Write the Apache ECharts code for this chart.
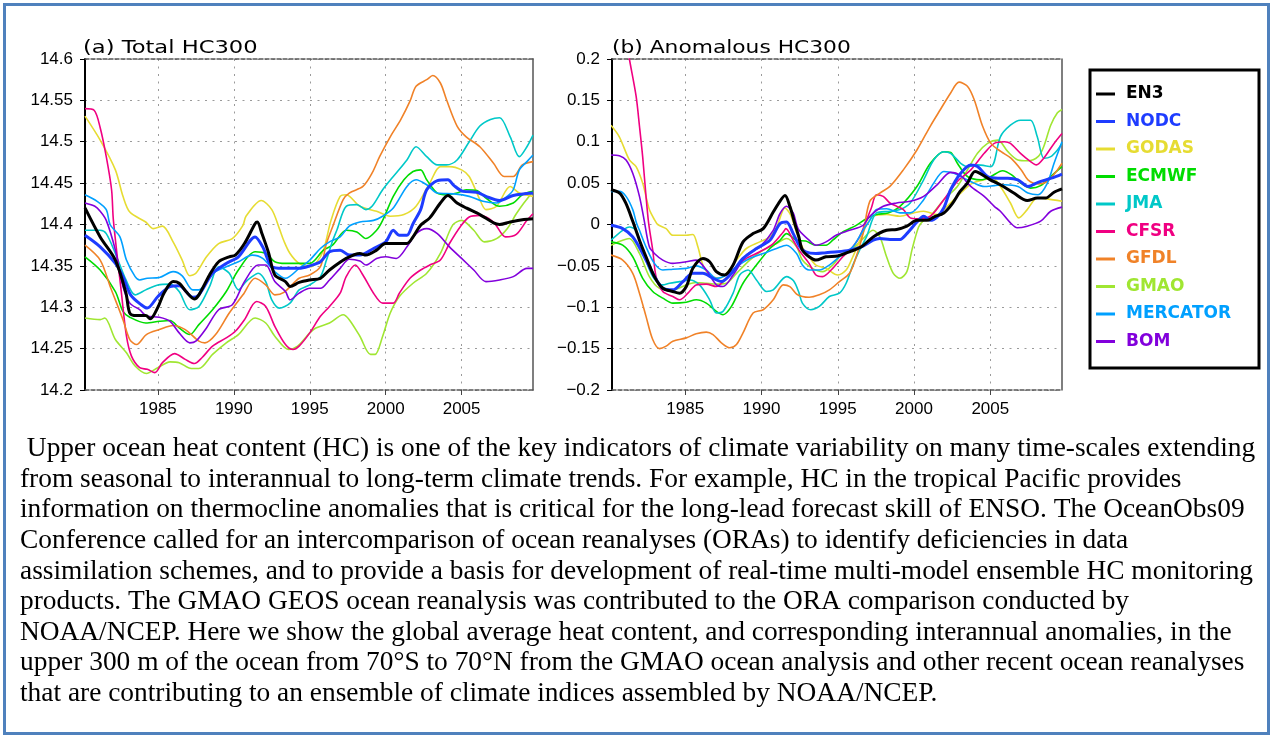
<!DOCTYPE html>
<html>
<head>
<meta charset="utf-8">
<script src="https://cdn.jsdelivr.net/npm/echarts@6/dist/echarts.min.js"></script>
<style>
  html, body { margin: 0; padding: 0; background: #ffffff; }
  #chart { width: 1273px; height: 738px; }
</style>
</head>
<body>
<div id="chart"></div>
<script>
// ---- Global mean heat content of the upper 300 m (70S-70N), [year, value] ----
const en3Total = [[1980.2,14.42],[1981.2,14.385],[1982.2,14.357],[1982.9,14.317],[1983.15,14.293],[1983.6,14.29],[1984.2,14.29],[1984.5,14.286],[1985,14.3],[1985.4,14.317],[1986,14.331],[1986.4,14.329],[1986.85,14.319],[1987.4,14.31],[1987.7,14.315],[1988.4,14.339],[1989,14.355],[1989.7,14.361],[1990.1,14.363],[1990.7,14.377],[1991.4,14.401],[1991.55,14.403],[1991.85,14.389],[1992.3,14.365],[1992.7,14.339],[1993.4,14.331],[1993.7,14.325],[1994.3,14.33],[1995,14.333],[1995.7,14.335],[1996.3,14.345],[1997.4,14.359],[1998.3,14.365],[1998.7,14.363],[1999.4,14.369],[2000,14.377],[2001.4,14.377],[2001.8,14.385],[2002.3,14.399],[2002.9,14.408],[2003.6,14.426],[2004.1,14.435],[2004.7,14.426],[2005.3,14.42],[2006.2,14.412],[2007.1,14.402],[2007.5,14.4],[2008.2,14.403],[2009.1,14.406],[2009.7,14.407]];
const nodcTotal = [[1980.2,14.387],[1981.2,14.373],[1982.2,14.353],[1982.7,14.337],[1983.2,14.315],[1983.9,14.303],[1984.3,14.299],[1985,14.313],[1985.8,14.325],[1986.4,14.326],[1987.3,14.312],[1987.7,14.315],[1988.6,14.341],[1989.5,14.353],[1990.3,14.361],[1991.4,14.385],[1991.9,14.373],[1992.5,14.349],[1993.2,14.347],[1994.3,14.347],[1995,14.35],[1995.7,14.355],[1996.3,14.367],[1997,14.369],[1997.6,14.363],[1998.3,14.363],[1999.2,14.371],[2000,14.379],[2000.5,14.393],[2000.9,14.387],[2001.4,14.387],[2001.8,14.401],[2002.3,14.418],[2002.7,14.442],[2003.4,14.453],[2004.1,14.454],[2004.5,14.447],[2005.1,14.44],[2006,14.439],[2006.6,14.434],[2007.5,14.429],[2008.4,14.435],[2009.7,14.438]];
const godasTotal = [[1980.2,14.531],[1981.2,14.502],[1982.2,14.466],[1982.7,14.434],[1983.15,14.415],[1984.2,14.403],[1984.7,14.395],[1985.3,14.398],[1986,14.379],[1986.6,14.357],[1987.1,14.338],[1987.5,14.341],[1988.2,14.361],[1989,14.377],[1989.9,14.383],[1990.6,14.399],[1990.8,14.41],[1991.8,14.429],[1992.5,14.418],[1993,14.395],[1993.3,14.38],[1993.7,14.365],[1994.3,14.353],[1995,14.349],[1995.4,14.353],[1995.9,14.369],[1996.4,14.405],[1997,14.434],[1997.4,14.436],[1998.3,14.422],[1999.4,14.416],[2000.3,14.41],[2001.2,14.412],[2002,14.422],[2002.9,14.45],[2003.6,14.47],[2004.2,14.47],[2005,14.466],[2005.5,14.458],[2006.2,14.43],[2006.6,14.418],[2007.3,14.422],[2008.2,14.446],[2008.8,14.438],[2009.7,14.434]];
const ecmwfTotal = [[1980.2,14.361],[1981.2,14.345],[1982.2,14.319],[1982.7,14.295],[1983.15,14.288],[1984.2,14.281],[1985.1,14.283],[1985.8,14.284],[1986.4,14.275],[1987.1,14.267],[1987.7,14.279],[1988.6,14.297],[1989.5,14.319],[1990.3,14.345],[1991.4,14.367],[1992.1,14.365],[1992.7,14.355],[1993.4,14.353],[1994.3,14.353],[1995,14.353],[1995.9,14.369],[1996.5,14.375],[1997.4,14.393],[1998.1,14.391],[1998.7,14.383],[1999.4,14.393],[1999.8,14.405],[2000.5,14.434],[2001.2,14.454],[2001.8,14.464],[2002.3,14.466],[2002.7,14.454],[2003.4,14.438],[2004,14.436],[2004.7,14.438],[2005.3,14.442],[2006,14.441],[2006.6,14.432],[2007.5,14.422],[2008.4,14.426],[2009,14.436],[2009.7,14.44]];
const jmaTotal = [[1980.2,14.393],[1981.2,14.393],[1981.6,14.389],[1982.2,14.365],[1982.9,14.333],[1983.5,14.315],[1984.2,14.321],[1985,14.327],[1985.8,14.328],[1986.4,14.319],[1987.1,14.297],[1987.7,14.301],[1988.4,14.325],[1989,14.349],[1989.7,14.341],[1990.3,14.321],[1990.8,14.331],[1991.2,14.337],[1991.6,14.341],[1992.1,14.331],[1992.5,14.309],[1993,14.299],[1993.7,14.305],[1994.3,14.321],[1995,14.327],[1995.7,14.337],[1996.1,14.357],[1996.5,14.38],[1996.8,14.394],[1997.4,14.422],[1998.1,14.424],[1998.7,14.418],[1999.1,14.422],[1999.8,14.442],[2000.5,14.458],[2001.4,14.478],[2002,14.494],[2002.7,14.482],[2003.4,14.472],[2004,14.472],[2004.7,14.478],[2005.5,14.5],[2006.2,14.519],[2006.9,14.527],[2007.5,14.529],[2008.2,14.506],[2008.8,14.482],[2009.3,14.494],[2009.7,14.508]];
const cfsrTotal = [[1980.2,14.54],[1980.8,14.538],[1981.2,14.517],[1981.6,14.482],[1981.95,14.442],[1982.07,14.405],[1982.6,14.317],[1982.93,14.265],[1983.26,14.241],[1983.8,14.227],[1984.3,14.225],[1984.8,14.221],[1985.3,14.233],[1986.1,14.244],[1986.8,14.237],[1987.4,14.232],[1987.9,14.239],[1988.6,14.253],[1989.5,14.263],[1990.1,14.271],[1990.7,14.285],[1991.5,14.307],[1992.1,14.301],[1992.7,14.277],[1993.4,14.255],[1993.9,14.249],[1994.3,14.253],[1995,14.269],[1995.7,14.289],[1996.3,14.301],[1997,14.317],[1997.4,14.337],[1998,14.351],[1998.5,14.339],[1999.2,14.317],[1999.8,14.305],[2000.5,14.305],[2000.9,14.317],[2001.6,14.335],[2002.3,14.345],[2002.9,14.351],[2003.6,14.357],[2004.2,14.377],[2004.9,14.397],[2005.5,14.409],[2006.2,14.411],[2007.1,14.403],[2007.9,14.385],[2008.6,14.388],[2009.3,14.405],[2009.7,14.413]];
const gfdlTotal = [[1980.2,14.375],[1981.2,14.357],[1981.9,14.323],[1982.7,14.285],[1983.15,14.261],[1983.6,14.255],[1984.24,14.267],[1985.1,14.273],[1986,14.278],[1986.8,14.273],[1987.7,14.259],[1988.1,14.257],[1988.8,14.267],[1989.7,14.293],[1990.6,14.315],[1991.4,14.335],[1992.1,14.327],[1992.7,14.315],[1993.3,14.318],[1994.3,14.335],[1995,14.339],[1995.7,14.349],[1996.1,14.377],[1996.5,14.397],[1997.2,14.43],[1997.6,14.438],[1998.5,14.446],[1999.1,14.462],[1999.6,14.482],[2000.3,14.506],[2001,14.527],[2001.6,14.549],[2002,14.567],[2002.7,14.575],[2003.1,14.58],[2003.6,14.571],[2004,14.551],[2004.7,14.519],[2005.3,14.506],[2006.2,14.494],[2007.1,14.474],[2007.8,14.458],[2008.4,14.458],[2009,14.472],[2009.7,14.476]];
const gmaoTotal = [[1980.2,14.287],[1981.2,14.285],[1981.5,14.287],[1982.2,14.261],[1982.93,14.245],[1983.5,14.229],[1984.24,14.22],[1985,14.227],[1985.8,14.234],[1986.4,14.233],[1987.2,14.226],[1987.7,14.226],[1988.6,14.243],[1989.5,14.257],[1990.3,14.267],[1991.4,14.287],[1992.1,14.281],[1992.7,14.265],[1993.6,14.249],[1994.2,14.253],[1995,14.269],[1995.4,14.275],[1996.3,14.281],[1997.2,14.291],[1997.6,14.285],[1998.3,14.265],[1999,14.243],[1999.3,14.243],[1999.8,14.265],[2000.3,14.293],[2000.9,14.313],[2001.8,14.329],[2002.7,14.341],[2003.6,14.365],[2004.4,14.399],[2005,14.405],[2005.8,14.393],[2006.5,14.379],[2007.3,14.383],[2008,14.395],[2008.6,14.413],[2009.1,14.426],[2009.7,14.44]];
const mercatorTotal = [[1980.2,14.436],[1981,14.428],[1981.6,14.418],[1981.85,14.4],[1982.5,14.385],[1982.93,14.357],[1983.5,14.337],[1983.8,14.333],[1984.3,14.335],[1985.1,14.336],[1986,14.343],[1986.6,14.338],[1987.3,14.321],[1987.7,14.321],[1988.6,14.341],[1989.5,14.349],[1990.3,14.355],[1991.2,14.363],[1991.9,14.359],[1992.7,14.343],[1993.4,14.335],[1994.3,14.347],[1995,14.357],[1995.7,14.371],[1996.3,14.379],[1997,14.385],[1997.6,14.398],[1998.3,14.403],[1999.2,14.405],[1999.8,14.41],[2000.5,14.42],[2001.4,14.446],[2002,14.454],[2002.7,14.448],[2003.4,14.438],[2004.5,14.437],[2005.5,14.434],[2006.4,14.428],[2007.3,14.426],[2008,14.434],[2008.4,14.442],[2008.8,14.466],[2009.3,14.476],[2009.7,14.484]];
const bomTotal = [[1980.2,14.426],[1980.85,14.422],[1981.2,14.416],[1981.6,14.405],[1982.2,14.369],[1982.7,14.325],[1983.15,14.305],[1983.8,14.297],[1984.3,14.289],[1985.1,14.288],[1985.8,14.283],[1986.4,14.269],[1987.1,14.257],[1987.5,14.259],[1988.2,14.275],[1989,14.297],[1989.9,14.303],[1990.7,14.331],[1991.6,14.351],[1992.1,14.351],[1992.7,14.331],[1993.4,14.319],[1993.7,14.309],[1994.3,14.317],[1995,14.323],[1995.7,14.323],[1996.3,14.333],[1997,14.347],[1997.6,14.358],[1998.3,14.356],[1998.7,14.351],[1999.4,14.359],[2000,14.361],[2000.7,14.359],[2001.4,14.373],[2002,14.389],[2002.7,14.395],[2003.4,14.389],[2004.2,14.373],[2005,14.359],[2005.8,14.345],[2006.6,14.331],[2007.5,14.333],[2008.4,14.337],[2009.3,14.347],[2009.7,14.347]];

// ---- Interannual anomalies of the same quantity, [year, value] ----
const en3Anom = [[1980.13,0.042],[1980.7,0.038],[1981.1,0.026],[1981.56,0.004],[1982,-0.019],[1982.43,-0.039],[1982.98,-0.063],[1983.53,-0.077],[1984.19,-0.081],[1984.63,-0.083],[1985.07,-0.075],[1985.5,-0.053],[1986.16,-0.041],[1986.6,-0.045],[1987.04,-0.057],[1987.59,-0.061],[1988.14,-0.049],[1988.79,-0.021],[1989.45,-0.011],[1990.11,-0.005],[1990.77,0.015],[1991.1,0.025],[1991.54,0.035],[1991.86,0.022],[1992.2,0.0],[1992.45,-0.015],[1992.68,-0.031],[1993.12,-0.039],[1993.57,-0.043],[1994.23,-0.039],[1995,-0.038],[1995.77,-0.033],[1996.55,-0.027],[1997.32,-0.015],[1998.2,-0.007],[1998.86,-0.006],[1999.53,-0.002],[2000.19,0.005],[2000.85,0.005],[2001.29,0.009],[2001.95,0.014],[2002.5,0.025],[2003.02,0.04],[2003.5,0.05],[2004.0,0.064],[2005,0.054],[2005.66,0.048],[2006.54,0.038],[2007.42,0.029],[2008.08,0.032],[2008.63,0.032],[2009.18,0.039],[2009.7,0.043]];
const nodcAnom = [[1980.13,-0.001],[1980.9,-0.005],[1981.56,-0.015],[1982.21,-0.035],[1982.87,-0.059],[1983.53,-0.077],[1984.19,-0.079],[1984.85,-0.069],[1985.5,-0.059],[1986.16,-0.059],[1986.82,-0.065],[1987.37,-0.069],[1988.03,-0.059],[1988.79,-0.041],[1989.67,-0.029],[1990.55,-0.019],[1991.21,0.001],[1991.64,0.003],[1992.08,-0.011],[1992.52,-0.027],[1992.9,-0.033],[1993.57,-0.035],[1994.23,-0.034],[1995,-0.033],[1995.77,-0.031],[1996.55,-0.027],[1997.32,-0.019],[1997.76,-0.017],[1998.42,-0.018],[1999.08,-0.018],[1999.53,-0.011],[2000.19,0.003],[2000.63,0.01],[2001.07,0.005],[2001.51,0.009],[2001.95,0.02],[2002.4,0.042],[2003.06,0.062],[2003.72,0.072],[2004.16,0.07],[2004.82,0.058],[2005.49,0.056],[2006.15,0.056],[2006.81,0.054],[2007.47,0.046],[2008.13,0.051],[2009.0,0.056],[2009.7,0.061]];
const godasAnom = [[1980.13,0.12],[1980.68,0.106],[1981.34,0.078],[1981.78,0.07],[1982.21,0.05],[1982.65,0.018],[1982.98,0.006],[1983.2,0.0],[1983.75,-0.005],[1984.19,-0.013],[1985.07,-0.013],[1985.5,-0.012],[1985.83,-0.027],[1986.16,-0.049],[1986.6,-0.061],[1987.26,-0.065],[1987.7,-0.059],[1988.36,-0.043],[1989.01,-0.029],[1989.89,-0.021],[1990.55,-0.015],[1991.0,-0.003],[1991.54,0.02],[1991.9,0.012],[1992.3,-0.01],[1992.7,-0.028],[1993.12,-0.039],[1993.57,-0.049],[1994.23,-0.053],[1995,-0.061],[1995.55,-0.055],[1995.99,-0.039],[1996.55,-0.015],[1996.9,0.0],[1997.32,0.01],[1998.2,0.012],[1999.08,0.01],[1999.97,0.014],[2000.63,0.016],[2001.51,0.012],[2002.17,0.022],[2003.06,0.038],[2003.83,0.05],[2004.6,0.054],[2005.1,0.057],[2005.66,0.046],[2006.32,0.026],[2006.87,0.008],[2007.42,0.018],[2008.08,0.032],[2008.74,0.031],[2009.7,0.028]];
const ecmwfAnom = [[1980.13,-0.021],[1980.9,-0.025],[1981.56,-0.039],[1982.21,-0.065],[1982.87,-0.081],[1983.53,-0.089],[1984.19,-0.095],[1985.07,-0.094],[1985.72,-0.091],[1986.38,-0.095],[1987.04,-0.105],[1987.48,-0.109],[1988.03,-0.099],[1988.79,-0.071],[1989.67,-0.049],[1990.55,-0.029],[1991.21,-0.019],[1991.64,-0.011],[1992.3,-0.019],[1992.9,-0.02],[1993.57,-0.025],[1994.23,-0.025],[1994.67,-0.019],[1995.33,-0.009],[1996.21,-0.001],[1996.88,0.007],[1997.54,0.012],[1998.3,0.014],[1999.08,0.022],[2000.19,0.046],[2001.07,0.074],[2001.95,0.088],[2002.4,0.087],[2002.84,0.074],[2003.5,0.058],[2004.38,0.054],[2005.04,0.058],[2005.8,0.065],[2006.4,0.06],[2007.0,0.05],[2007.64,0.044],[2008.3,0.047],[2008.96,0.058],[2009.7,0.07]];
const jmaAnom = [[1980.13,-0.019],[1980.9,-0.007],[1981.34,-0.003],[1981.78,-0.007],[1982.21,-0.031],[1982.87,-0.063],[1983.53,-0.073],[1983.97,-0.071],[1984.63,-0.069],[1985.29,-0.067],[1985.94,-0.073],[1986.6,-0.091],[1987.04,-0.107],[1987.48,-0.105],[1988.14,-0.083],[1988.57,-0.061],[1989.12,-0.055],[1989.67,-0.067],[1990.33,-0.081],[1990.77,-0.079],[1991.64,-0.063],[1992.1,-0.068],[1992.45,-0.082],[1992.68,-0.095],[1993.23,-0.103],[1993.79,-0.099],[1994.45,-0.087],[1995.11,-0.083],[1995.55,-0.071],[1995.99,-0.049],[1996.43,-0.031],[1996.88,-0.015],[1997.54,0.014],[1998.42,0.016],[1999.08,0.018],[1999.75,0.026],[2000.63,0.054],[2001.29,0.078],[2001.95,0.088],[2002.4,0.086],[2003.06,0.074],[2003.5,0.07],[2004.16,0.072],[2005.04,0.07],[2005.66,0.106],[2006.32,0.12],[2006.98,0.126],[2007.64,0.126],[2008.08,0.106],[2008.52,0.08],[2008.96,0.082],[2009.4,0.09],[2009.7,0.098]];
const cfsrAnom = [[1980.13,0.33],[1981.34,0.2],[1981.78,0.155],[1982.0,0.119],[1982.21,0.082],[1982.43,0.034],[1982.6,0.002],[1982.87,-0.031],[1983.09,-0.063],[1983.53,-0.081],[1984.19,-0.087],[1984.63,-0.091],[1985.18,-0.083],[1985.72,-0.073],[1986.38,-0.072],[1987.04,-0.075],[1987.59,-0.067],[1988.14,-0.055],[1989.01,-0.041],[1989.89,-0.033],[1990.77,-0.023],[1991.43,-0.009],[1991.6,-0.005],[1992.08,-0.019],[1992.46,-0.031],[1993.12,-0.047],[1993.57,-0.061],[1994.0,-0.063],[1994.67,-0.053],[1995.33,-0.039],[1995.99,-0.027],[1996.43,-0.015],[1996.88,0.005],[1997.2,0.02],[1997.54,0.036],[1997.98,0.034],[1998.42,0.026],[1998.86,0.022],[1999.3,0.018],[1999.75,0.008],[2000.19,0.007],[2001.07,0.01],[2001.95,0.03],[2002.84,0.052],[2003.72,0.066],[2004.6,0.086],[2005.26,0.098],[2005.93,0.1],[2006.32,0.098],[2006.98,0.086],[2007.64,0.076],[2008.02,0.072],[2008.5,0.08],[2009.18,0.098],[2009.7,0.11]];
const gfdlAnom = [[1980.13,-0.037],[1980.9,-0.043],[1981.56,-0.059],[1982.0,-0.083],[1982.43,-0.111],[1982.87,-0.139],[1983.31,-0.15],[1983.75,-0.147],[1984.19,-0.141],[1985.07,-0.137],[1985.72,-0.132],[1986.38,-0.13],[1986.82,-0.133],[1987.37,-0.143],[1987.92,-0.149],[1988.36,-0.145],[1988.79,-0.131],[1989.45,-0.107],[1990.11,-0.103],[1990.77,-0.091],[1991.43,-0.073],[1991.86,-0.075],[1992.3,-0.084],[1992.68,-0.087],[1993.12,-0.088],[1993.79,-0.085],[1994.45,-0.079],[1995.11,-0.069],[1995.77,-0.059],[1996.21,-0.039],[1996.66,-0.011],[1997.1,0.028],[1997.76,0.038],[1998.42,0.046],[1999.3,0.066],[2000.19,0.09],[2001.07,0.119],[2001.73,0.139],[2002.4,0.159],[2002.95,0.172],[2003.5,0.167],[2003.94,0.151],[2004.49,0.119],[2005.04,0.098],[2005.71,0.088],[2006.37,0.08],[2007.03,0.066],[2007.47,0.054],[2008.13,0.049],[2008.74,0.052],[2009.4,0.066],[2009.7,0.074]];
const gmaoAnom = [[1980.13,-0.025],[1980.9,-0.019],[1981.34,-0.017],[1982.0,-0.035],[1982.65,-0.063],[1983.31,-0.077],[1984.19,-0.079],[1985.07,-0.073],[1985.72,-0.07],[1986.38,-0.071],[1987.04,-0.072],[1987.7,-0.071],[1988.36,-0.059],[1989.23,-0.043],[1990.11,-0.031],[1990.99,-0.023],[1991.64,-0.017],[1992.3,-0.027],[1992.68,-0.043],[1993.34,-0.053],[1994.0,-0.057],[1994.67,-0.049],[1995.33,-0.035],[1995.99,-0.029],[1996.66,-0.017],[1997.32,-0.007],[1997.76,-0.015],[1998.2,-0.039],[1998.64,-0.059],[1999.08,-0.065],[1999.53,-0.057],[1999.86,-0.031],[2000.3,-0.003],[2000.63,0.005],[2001.07,0.01],[2001.95,0.03],[2002.84,0.046],[2003.5,0.066],[2004.16,0.086],[2004.82,0.098],[2005.49,0.102],[2006.15,0.088],[2006.81,0.078],[2007.47,0.077],[2008.13,0.082],[2008.5,0.094],[2008.96,0.12],[2009.4,0.135],[2009.7,0.139]];
const mercatorAnom = [[1980.13,0.04],[1980.68,0.04],[1981.12,0.034],[1981.56,0.018],[1981.8,0.002],[1982.0,-0.007],[1982.43,-0.027],[1982.98,-0.047],[1983.53,-0.055],[1984.19,-0.054],[1985.07,-0.053],[1985.72,-0.05],[1986.38,-0.055],[1987.04,-0.065],[1987.7,-0.061],[1988.36,-0.051],[1989.23,-0.041],[1990.11,-0.035],[1990.99,-0.029],[1991.64,-0.025],[1992.3,-0.035],[1992.68,-0.049],[1993.12,-0.055],[1993.79,-0.055],[1994.45,-0.049],[1995.11,-0.039],[1995.99,-0.027],[1996.66,-0.007],[1997.1,0.005],[1997.54,0.018],[1998.2,0.019],[1999.08,0.014],[1999.75,0.014],[2000.63,0.03],[2001.29,0.05],[2001.95,0.064],[2002.62,0.062],[2003.28,0.056],[2003.94,0.05],[2004.6,0.046],[2005.26,0.047],[2005.93,0.048],[2006.81,0.046],[2007.47,0.038],[2008.13,0.036],[2008.74,0.05],[2009.18,0.074],[2009.7,0.1]];
const bomAnom = [[1980.13,0.084],[1980.68,0.083],[1981.12,0.078],[1981.56,0.062],[1982.0,0.034],[1982.3,0.006],[1982.65,-0.027],[1982.98,-0.035],[1983.53,-0.043],[1984.19,-0.047],[1985.07,-0.045],[1985.72,-0.043],[1986.38,-0.055],[1987.04,-0.073],[1987.48,-0.075],[1988.14,-0.061],[1989.01,-0.037],[1989.89,-0.027],[1990.77,-0.007],[1991.21,0.013],[1991.64,0.022],[1992.08,0.014],[1992.3,0.0],[1992.46,-0.007],[1993.12,-0.019],[1993.57,-0.025],[1994.23,-0.021],[1994.89,-0.013],[1995.77,-0.007],[1996.66,-0.001],[1997.1,0.01],[1997.98,0.022],[1998.86,0.026],[1999.75,0.028],[2000.63,0.034],[2001.51,0.048],[2002.4,0.063],[2003.06,0.059],[2003.72,0.046],[2004.6,0.034],[2005.26,0.022],[2005.66,0.016],[2006.32,0.002],[2006.76,-0.004],[2007.42,-0.002],[2008.3,0.004],[2008.96,0.016],[2009.7,0.021]];

// ---- Names, axis ticks and paragraph text ----
const productNames = ['EN3', 'NODC', 'GODAS', 'ECMWF', 'JMA', 'CFSR', 'GFDL', 'GMAO', 'MERCATOR', 'BOM'];
const totalSeries = [en3Total, nodcTotal, godasTotal, ecmwfTotal, jmaTotal, cfsrTotal, gfdlTotal, gmaoTotal, mercatorTotal, bomTotal];
const anomSeries = [en3Anom, nodcAnom, godasAnom, ecmwfAnom, jmaAnom, cfsrAnom, gfdlAnom, gmaoAnom, mercatorAnom, bomAnom];
const yearTicks = [1985, 1990, 1995, 2000, 2005];
const panelTitles = ['(a) Total HC300', '(b) Anomalous HC300'];
const paragraphLines = [
  ' Upper ocean heat content (HC) is one of the key indicators of climate variability on many time-scales extending',
  'from seasonal to interannual to long-term climate trends. For example, HC in the tropical Pacific provides',
  'information on thermocline anomalies that is critical for the long-lead forecast skill of ENSO. The OceanObs09',
  'Conference called for an intercomparison of ocean reanalyses (ORAs) to identify deficiencies in data',
  'assimilation schemes, and to provide a basis for development of real-time multi-model ensemble HC monitoring',
  'products. The GMAO GEOS ocean reanalysis was contributed to the ORA comparison conducted by',
  'NOAA/NCEP. Here we show the global average heat content, and corresponding interannual anomalies, in the',
  'upper 300 m of the ocean from 70°S to 70°N from the GMAO ocean analysis and other recent ocean reanalyses',
  'that are contributing to an ensemble of climate indices assembled by NOAA/NCEP.'
];

// ---- Styling ----
const lineColors = ['#000000', '#1e3cff', '#e6dc32', '#00dc00', '#00c8c8', '#f00082', '#f08228', '#a0e632', '#00a0ff', '#8200dc'];
const lineWidths = [3, 3, 1.6, 1.6, 1.6, 1.6, 1.6, 1.6, 1.6, 1.6];
const lineZ = [12, 11, 3, 4, 5, 6, 7, 2, 8, 9];

const X_MIN = 1980.2, X_MAX = 2009.7;
const labelFont = { fontFamily: '"Liberation Sans", Arial, sans-serif', fontSize: 17, color: '#000' };
const dotted = { color: '#9a9a9a', width: 1, type: [2, 5.5] };
const dashedBorder = { color: '#555', width: 1.5, type: [4, 2] };

function fmtTick(v) {
  return String(+v.toFixed(2)).replace('-', '\u2212');
}

function bottomAxis(gi) {
  return {
    gridIndex: gi, type: 'value', position: 'bottom', min: X_MIN, max: X_MAX,
    axisLine: { show: true, onZero: false, lineStyle: dashedBorder },
    axisTick: { show: true, customValues: yearTicks, length: 5, lineStyle: { color: '#444', width: 1 } },
    axisLabel: Object.assign({ customValues: yearTicks, margin: 11, formatter: v => String(Math.round(v)) }, labelFont),
    splitLine: { show: true, lineStyle: dotted }
  };
}
function topAxis(gi) {
  return {
    gridIndex: gi, type: 'value', position: 'top', min: X_MIN, max: X_MAX,
    axisLine: { show: true, onZero: false, lineStyle: dashedBorder },
    axisTick: { show: false }, axisLabel: { show: false }, splitLine: { show: false }
  };
}
function leftAxis(gi, min, max) {
  return {
    gridIndex: gi, type: 'value', position: 'left', min: min, max: max, interval: 0.05,
    axisLine: { show: true, onZero: false, lineStyle: { color: '#000', width: 2 } },
    axisTick: { show: true, length: 5, lineStyle: { color: '#000', width: 1 } },
    axisLabel: Object.assign({ margin: 12, formatter: fmtTick }, labelFont),
    splitLine: { show: true, lineStyle: dotted }
  };
}
function rightAxis(gi, min, max) {
  return {
    gridIndex: gi, type: 'value', position: 'right', min: min, max: max,
    axisLine: { show: true, onZero: false, lineStyle: { color: '#555', width: 1.5 } },
    axisTick: { show: false }, axisLabel: { show: false }, splitLine: { show: false }
  };
}

const series = [];
[totalSeries, anomSeries].forEach((group, gi) => {
  group.forEach((data, i) => {
    series.push({
      name: productNames[i], type: 'line',
      xAxisIndex: gi * 2, yAxisIndex: gi * 2,
      data: data, symbol: 'none', smooth: 0.3, clip: true,
      color: lineColors[i], z: lineZ[i],
      lineStyle: { color: lineColors[i], width: lineWidths[i] },
      emphasis: { disabled: true }
    });
  });
});

const graphics = [
  { type: 'rect', shape: { x: 4.5, y: 4.5, width: 1264, height: 729 }, style: { fill: 'none', stroke: '#4f81bd', lineWidth: 3 }, silent: true },
  { type: 'rect', shape: { x: 1090, y: 70, width: 169, height: 298 }, style: { fill: 'none', stroke: '#000', lineWidth: 3 }, silent: true },
  { type: 'text', x: 83, y: 40, scaleX: 1.33, style: { text: panelTitles[0], fontFamily: '"DejaVu Sans", sans-serif', fontSize: 17, fill: '#000', verticalAlign: 'top' } },
  { type: 'text', x: 612, y: 40, scaleX: 1.28, style: { text: panelTitles[1], fontFamily: '"DejaVu Sans", sans-serif', fontSize: 17, fill: '#000', verticalAlign: 'top' } }
];
paragraphLines.forEach((t, k) => {
  graphics.push({
    type: 'text', x: 20, y: 449 + k * 30.6,
    style: { text: t, fontFamily: '"Liberation Serif", "Times New Roman", serif', fontSize: 27.4, fill: '#000', verticalAlign: 'middle' }
  });
});

const chart = echarts.init(document.getElementById('chart'), null, { renderer: 'canvas' });
chart.setOption({
  animation: false,
  backgroundColor: '#ffffff',
  grid: [
    { left: 85, top: 59, width: 448, height: 331, containLabel: false },
    { left: 612, top: 59, width: 450, height: 331, containLabel: false }
  ],
  xAxis: [bottomAxis(0), topAxis(0), bottomAxis(1), topAxis(1)],
  yAxis: [leftAxis(0, 14.2, 14.6), rightAxis(0, 14.2, 14.6), leftAxis(1, -0.2, 0.2), rightAxis(1, -0.2, 0.2)],
  legend: {
    orient: 'vertical', left: 1096, top: 84, padding: 0,
    icon: 'rect', itemWidth: 19, itemHeight: 3, itemGap: 7.5,
    selectedMode: false,
    data: productNames.map((n, i) => ({ name: n, textStyle: { color: lineColors[i] } })),
    textStyle: { fontFamily: '"DejaVu Sans", sans-serif', fontWeight: 'bold', fontSize: 17, lineHeight: 20, padding: [0, 0, 0, 6] }
  },
  graphic: graphics,
  series: series
});
</script>
</body>
</html>
